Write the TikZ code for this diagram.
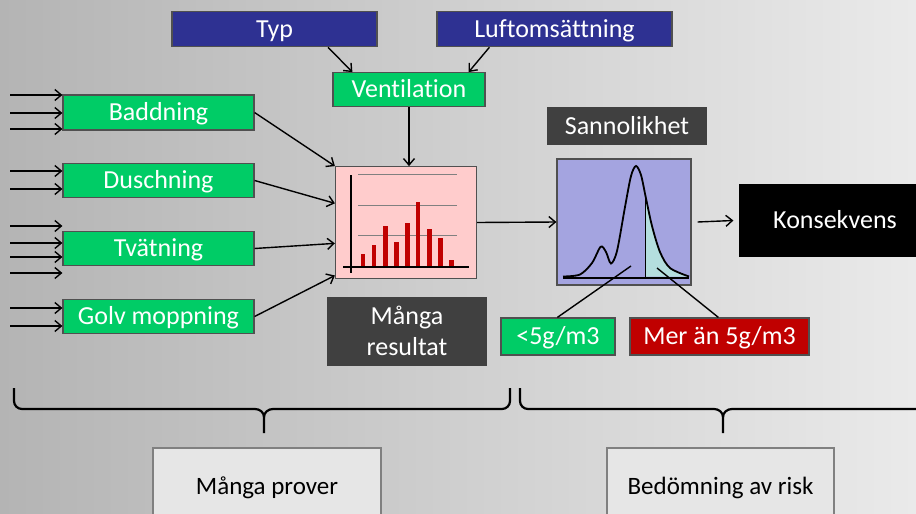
\documentclass[tikz,border=0pt]{standalone}
\usepackage{fontspec}
\setmainfont{Carlito}[Ligatures=NoCommon]
\usetikzlibrary{arrows.meta,calc}
\definecolor{bgL}{RGB}{180,180,180}
\definecolor{bgR}{RGB}{234,234,234}
\definecolor{navy}{RGB}{46,49,146}
\definecolor{grn}{RGB}{0,204,102}
\definecolor{dgray}{RGB}{64,64,64}
\definecolor{redbox}{RGB}{192,0,0}
\definecolor{pinkbg}{RGB}{255,204,204}
\definecolor{purp}{RGB}{164,164,224}
\definecolor{cyanf}{RGB}{180,222,222}
\definecolor{lgbox}{RGB}{230,230,230}
\definecolor{bord}{RGB}{80,80,80}
\begin{document}
\begin{tikzpicture}[x=1pt,y=-1pt,
  boxbase/.style={draw=bord,line width=1.2pt,inner sep=0pt,text=white,font=\fontsize{26}{31}\selectfont,align=center},
  box/.style={boxbase,text height=16.5pt,text depth=0pt},
  bluebox/.style={box,fill=navy},
  greenbox/.style={box,fill=grn},
  darkbox/.style={box,fill=dgray,draw=none},
  redb/.style={box,fill=redbox},
  lightbox/.style={draw=gray,line width=1.2pt,fill=lgbox,inner sep=0pt},
  btext/.style={text=black,font=\fontsize{25}{30}\selectfont,text height=16pt,text depth=0pt,inner sep=0pt},
  arr/.style={-{Straight Barb[length=6.5pt,width=11pt,line width=1.4pt]},line width=1.4pt},
  conn/.style={line width=1.4pt},
  brace/.style={line width=2.2pt}]
\useasboundingbox (0,0) rectangle (916,514);
\shade[left color=bgL,right color=bgR] (0,0) rectangle (916,514);

% nodes
\node[bluebox,minimum width=205pt,minimum height=35pt] (typ) at (274.5,29.2) {Typ};
\node[bluebox,minimum width=235pt,minimum height=35pt] (luft) at (554.5,29.2) {Luftomsättning};
\node[greenbox,minimum width=152pt,minimum height=34pt] (vent) at (409,89.7) {Ventilation};
\node[greenbox,minimum width=191pt,minimum height=35pt] (badd) at (158.5,112.5) {Baddning};
\node[greenbox,minimum width=191pt,minimum height=34pt] (dusch) at (158.5,180.5) {Duschning};
\node[greenbox,minimum width=191pt,minimum height=34pt] (tvat) at (158.5,248.5) {Tvätning};
\node[greenbox,minimum width=191pt,minimum height=34pt] (golv) at (158.5,316.5) {Golv moppning};
\node[draw=bord,line width=1.2pt,fill=pinkbg,minimum width=141pt,minimum height=111.6pt,inner sep=0pt] (chart) at (406,222.5) {};
\node[darkbox,minimum width=160pt,minimum height=38pt] (sann) at (627,126) {Sannolikhet};
\node[draw=bord,line width=1.2pt,fill=purp,minimum width=134pt,minimum height=126pt,inner sep=0pt] (prob) at (624,222) {};
\node[box,fill=black,draw=none,minimum width=192pt,minimum height=73pt] (kons) at (835,220.5) {Konsekvens};
\node[boxbase,fill=dgray,draw=none,minimum width=160pt,minimum height=69pt,font=\fontsize{26}{31}\selectfont] (manga) at (407,331) {Många\\resultat};
\node[greenbox,minimum width=114pt,minimum height=37pt] (low) at (558,336.5) {<5g/m3};
\node[redb,minimum width=179pt,minimum height=37pt] (high) at (719.5,336.5) {Mer än 5g/m3};
\node[lightbox,minimum width=228pt,minimum height=84pt] (prov) at (267,490) {};
\node[btext] (provt) at (267,486) {Många prover};
\node[lightbox,minimum width=227pt,minimum height=84pt] (risk) at (720.5,490) {};
\node[btext] (riskt) at (720.5,486) {Bedömning av risk};

% chart content
\draw[gray,line width=1pt] (358,174) -- (457,174) (358,205) -- (457,205) (358,235) -- (457,235);
\foreach \cx/\ty in {362.7/254,374/245,385.3/226.3,396.3/241.7,407.3/223.3,418.2/201.7,429.5/229.3,440.5/238.3,451.5/260}
  \fill[redbox] (\cx-2.2,\ty) rectangle (\cx+2.2,267);
\draw[line width=1.6pt] (351,175) -- (351,273);
\draw[line width=1.6pt] (343,267) -- (469,267);

% distribution
\def\curve{(563,276.5) (580,274.5) (592,263) (600.7,246.7) (606,252) (611,263.5) (617,251) (625,207) (631,176) (636,166) (641,175) (645.7,197) (652,226) (660,252) (670,268) (689,276.5)}
\begin{scope}
\clip (645.7,150) rectangle (695,278);
\fill[cyanf] plot[smooth] coordinates {\curve} -- cycle;
\end{scope}
\draw[line width=1.8pt] plot[smooth] coordinates {\curve};
\draw[line width=1.3pt] (645.7,197) -- (645.7,278);
\draw[line width=2.8pt] (563,278) -- (689,278);
\coordinate (lowpt) at (631,266);
\coordinate (highpt) at (657,268);

% connectors
\draw[arr] ($(typ.south)+(53.5,0)$) -- ($(vent.north west)+(20,0)$);
\draw[arr] ($(luft.south west)+(53,0)$) -- ($(vent.north east)+(-17,0)$);
\draw[arr] (vent.south) -- (chart.north -| vent.south);
\draw[arr] (badd.east) -- (chart.north west);
\draw[arr] (dusch.east) -- ($(chart.north west)!0.33!(chart.south west)$);
\draw[arr] (tvat.east) -- ($(chart.north west)!0.685!(chart.south west)$);
\draw[arr] (golv.east) -- ($(chart.north west)!0.97!(chart.south west)$);
\draw[arr] (chart.east) -- (prob.west);
\draw[arr] ($(prob.east)+(6,0)$) -- ($(kons.west)+(-5,0)$);
\draw[conn] (lowpt) -- ($(low.north west)+(57,0)$);
\draw[conn] (highpt) -- ($(high.north west)+(89,0)$);

% input arrows
\foreach \y in {95,113,129} \draw[arr] (10,\y) -- (badd.west |- 0,\y);
\foreach \y in {171,189} \draw[arr] (10,\y) -- (dusch.west |- 0,\y);
\foreach \y in {226,243,257,273} \draw[arr] (10,\y) -- (tvat.west |- 0,\y);
\foreach \y in {308,326} \draw[arr] (10,\y) -- (golv.west |- 0,\y);

% braces
\draw[brace] (14,388) -- (14,401) to[out=-90,in=180] (22,409) -- (255,409) to[out=0,in=90] (264,417) -- (264,433);
\draw[brace] (264,417) to[out=90,in=180] (273,409) -- (502,409) to[out=0,in=-90] (510,401) -- (510,388);
\draw[brace] (520,388) -- (520,401) to[out=-90,in=180] (528,409) -- (714,409) to[out=0,in=90] (723,417) -- (723,433);
\draw[brace] (723,417) to[out=90,in=180] (732,409) -- (930,409);
\end{tikzpicture}
\end{document}
